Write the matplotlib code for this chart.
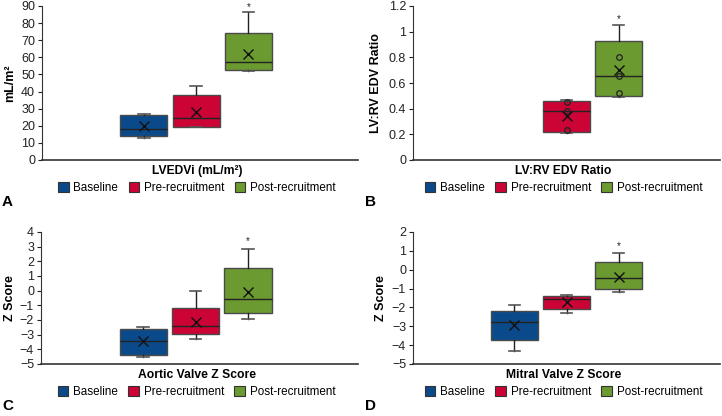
import matplotlib
matplotlib.use("Agg")
import matplotlib.pyplot as plt
from matplotlib.patches import Patch
from matplotlib.ticker import FuncFormatter

plt.rcParams["font.family"] = ["Liberation Sans", "DejaVu Sans"]

groups = ["Baseline", "Pre-recruitment", "Post-recruitment"]
colors = ["#0b4a8a", "#cc0335", "#6b9a30"]

# per group: whislo, q1, med, q3, whishi, mean  (None = group not shown)
lvedvi = [(13.0, 14.0, 18.3, 26.1, 27.1, 19.7),
          (19.3, 19.5, 24.4, 37.8, 43.0, 27.9),
          (52.0, 52.8, 57.1, 74.0, 86.7, 62.0)]
ratio = [None,
         (0.208, 0.218, 0.382, 0.457, 0.465, 0.345),
         (0.49, 0.501, 0.652, 0.925, 1.05, 0.699)]
ratio_points = [[], [0.452, 0.382, 0.234], [0.803, 0.652, 0.522]]
aortic = [(-4.52, -4.38, -3.40, -2.58, -2.47, -3.45),
          (-3.29, -2.97, -2.38, -1.17, 0.0, -2.13),
          (-1.90, -1.49, -0.58, 1.54, 2.86, -0.12)]
mitral = [(-4.31, -3.71, -2.75, -2.18, -1.85, -2.91),
          (-2.27, -2.10, -1.55, -1.42, -1.32, -1.71),
          (-1.16, -1.03, -0.43, 0.39, 0.87, -0.36)]

panels = [
    dict(stats=lvedvi, pts=None, ylim=(0, 90), ticks=range(0, 91, 10), ylabel="mL/m²",
         xlabel="LVEDVi (mL/m²)", letter="A", star=89.5),
    dict(stats=ratio, pts=ratio_points, ylim=(0, 1.2), ticks=[0, 0.2, 0.4, 0.6, 0.8, 1, 1.2],
         ylabel="LV:RV EDV Ratio", xlabel="LV:RV EDV Ratio", letter="B", star=1.10),
    dict(stats=aortic, pts=None, ylim=(-5, 4), ticks=range(-5, 5), ylabel="Z Score",
         xlabel="Aortic Valve Z Score", letter="C", star=3.35),
    dict(stats=mitral, pts=None, ylim=(-5, 2), ticks=range(-5, 3), ylabel="Z Score",
         xlabel="Mitral Valve Z Score", letter="D", star=1.25),
]

W, H = 722, 416
fig = plt.figure(figsize=(W / 100, H / 100), dpi=100)

# pixel boxes: left, right, top, bottom
boxes_px = [(42, 358, 6, 160), (413, 720, 6, 160), (41, 358, 232, 364), (413, 720, 232, 364)]
ylab_x = [10, 376, 10, 381]
letter_x = [2, 365, 2, 365]
xlim = [(-1.95, 4.1), (-1.95, 3.95), (-1.95, 4.1), (-1.95, 3.95)]

for i, p in enumerate(panels):
    l, r, t, b = boxes_px[i]
    ax = fig.add_axes([l / W, 1 - b / H, (r - l) / W, (b - t) / H])
    st, pos, cols = [], [], []
    for j, s in enumerate(p["stats"]):
        if s is None:
            continue
        st.append(dict(whislo=s[0], q1=s[1], med=s[2], q3=s[3], whishi=s[4], mean=s[5], fliers=[]))
        pos.append(j)
        cols.append(colors[j])
    bp = ax.bxp(st, positions=pos, widths=0.9, patch_artist=True, showmeans=True,
                showfliers=False, capwidths=0.22,
                boxprops=dict(edgecolor="#4a4a4a", linewidth=1.0),
                medianprops=dict(color="#222222", linewidth=1.0),
                whiskerprops=dict(color="#222222", linewidth=1.0),
                capprops=dict(color="#555555", linewidth=1.2),
                meanprops=dict(marker="x", markeredgecolor="#111111", markersize=6.5,
                               markeredgewidth=1.0))
    for patch, c in zip(bp["boxes"], cols):
        patch.set_facecolor(c)
    if p["pts"] is not None:
        for j, vals in enumerate(p["pts"]):
            ax.plot([j] * len(vals), vals, "o", mfc="none", mec="#222222", ms=4, mew=0.9)
    ax.text(2, p["star"], "*", ha="center", va="center", fontsize=7, color="#222222")
    ax.set_xlim(*xlim[i])
    ax.set_ylim(*p["ylim"])
    ax.set_yticks(list(p["ticks"]))
    ax.yaxis.set_major_formatter(FuncFormatter(lambda v, _: ("%g" % v).replace("-", "\u2212")))
    ax.set_xticks([])
    ax.tick_params(axis="y", labelsize=9, length=3, width=0.8, pad=2, colors="#222222")
    for sp in ["top", "right"]:
        ax.spines[sp].set_visible(False)
    ax.spines["left"].set_color("#333333")
    ax.spines["left"].set_linewidth(0.8)
    ax.spines["bottom"].set_color("#333333")
    ax.spines["bottom"].set_linewidth(1.2)

    cx = (l + r) / 2 - 3
    fig.text(ylab_x[i] / W, 1 - (t + b) / 2 / H, p["ylabel"], rotation=90, ha="center",
             va="center", fontsize=9, fontweight="bold")
    fig.text(cx / W, 1 - (b + 11) / H, p["xlabel"], ha="center", va="center", fontsize=8.7,
             fontweight="bold")
    handles = [Patch(facecolor=c, edgecolor="#333333", linewidth=0.8) for c in colors]
    fig.legend(handles, groups, loc="center", bbox_to_anchor=(cx / W, 1 - (b + 28) / H),
               ncol=3, frameon=False, fontsize=8.4, handlelength=0.9, handleheight=0.9,
               handletextpad=0.4, columnspacing=0.9, borderpad=0)
    fig.text(letter_x[i] / W, 1 - (b + 42) / H, p["letter"],
             ha="left", va="center", fontsize=11, fontweight="bold")

fig.savefig("out.png", dpi=100)
